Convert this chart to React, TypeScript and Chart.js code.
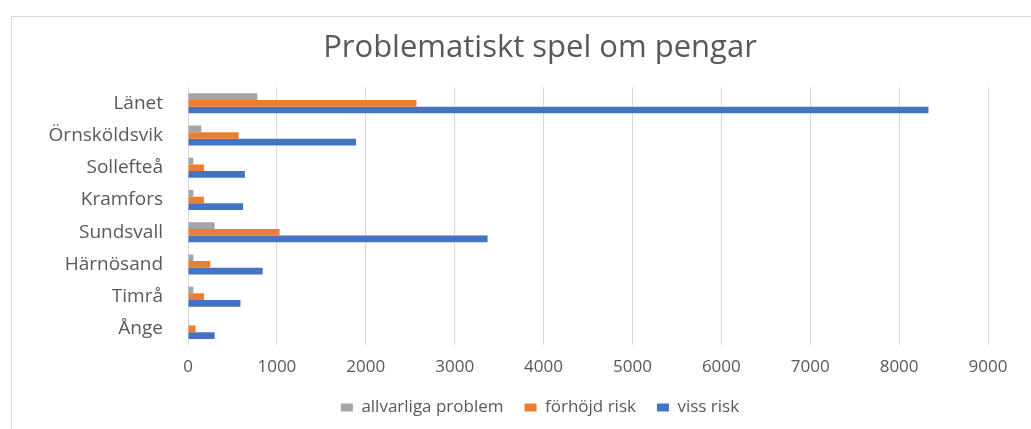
import React, { useEffect, useRef } from "react";
import { Chart, registerables } from "chart.js";

Chart.register(...registerables);

const chartTitle = "Problematiskt spel om pengar";
const categories = ["Länet", "Örnsköldsvik", "Sollefteå", "Kramfors", "Sundsvall", "Härnösand", "Timrå", "Ånge"];
const seriesNames = ["allvarliga problem", "förhöjd risk", "viss risk"];
const allvarligaProblem = [780, 150, 60, 60, 300, 60, 60, 10];
const forhojdRisk = [2570, 570, 180, 180, 1030, 250, 180, 85];
const vissRisk = [8330, 1890, 640, 620, 3370, 840, 590, 300];
const xTickLabels = ["0", "1000", "2000", "3000", "4000", "5000", "6000", "7000", "8000", "9000"];
const seriesColors = ["#a5a5a5", "#ed7d31", "#4472c4"];

const TEXT = "#595959";
const GRID = "#d9d9d9";
const CANVAS_W = 1080;
const CANVAS_H = 429;

const framePlugin = {
  id: "frame",
  beforeDraw(chart: any) {
    const ctx = chart.ctx;
    ctx.save();
    ctx.fillStyle = "#ffffff";
    ctx.fillRect(0, 0, chart.width, chart.height);
    ctx.strokeStyle = GRID;
    ctx.lineWidth = 1;
    ctx.strokeRect(11.5, 16.5, chart.width + 20, chart.height + 20);
    ctx.restore();
  },
};

export default function App() {
  const canvasRef = useRef<HTMLCanvasElement | null>(null);

  useEffect(() => {
    document.body.style.margin = "0";
    const canvas = canvasRef.current;
    if (!canvas) return;
    const chart = new Chart(canvas, {
      type: "bar",
      data: {
        labels: categories,
        datasets: [
          { label: seriesNames[0], data: allvarligaProblem, backgroundColor: seriesColors[0], xAxisID: "x", yAxisID: "y" },
          { label: seriesNames[1], data: forhojdRisk, backgroundColor: seriesColors[1], xAxisID: "x", yAxisID: "y" },
          { label: seriesNames[2], data: vissRisk, backgroundColor: seriesColors[2], xAxisID: "x", yAxisID: "y" },
        ],
      },
      options: {
        indexAxis: "y",
        responsive: false,
        animation: false,
        datasets: {
          bar: { categoryPercentage: 0.62, barPercentage: 1.0 },
        },
        layout: { padding: { left: 10, right: 10, top: 0, bottom: 3 } },
        plugins: {
          title: {
            display: true,
            text: chartTitle,
            color: TEXT,
            font: { family: "'Open Sans'", size: 31, weight: "normal", lineHeight: 1.2 },
            padding: { top: 30, bottom: 20 },
          },
          legend: {
            position: "bottom",
            labels: {
              color: TEXT,
              font: { family: "'Open Sans'", size: 17 },
              boxWidth: 12,
              boxHeight: 8,
              padding: 21,
            },
          },
          tooltip: { enabled: false },
        },
        scales: {
          x: {
            min: 0,
            max: 9000,
            ticks: {
              stepSize: 1000,
              color: TEXT,
              font: { family: "'Open Sans'", size: 17 },
              padding: 12,
              maxRotation: 0,
              callback: (_v: any, i: number) => xTickLabels[i],
            },
            grid: { color: GRID, lineWidth: 1, drawTicks: false },
            border: { display: false },
            afterFit: (scale: any) => {
              scale.height = 33;
            },
          },
          y: {
            position: "left",
            ticks: {
              color: TEXT,
              font: { family: "'Open Sans'", size: 19 },
              padding: 25,
            },
            grid: { display: false, drawTicks: false },
            border: { display: false },
            afterFit: (scale: any) => {
              scale.width = 178;
            },
          },
          yRight: {
            type: "linear",
            position: "right",
            display: true,
            ticks: { display: false },
            grid: { display: false, drawTicks: false },
            border: { display: false },
            afterFit: (scale: any) => {
              scale.width = 82;
            },
          },
        },
      },
      plugins: [framePlugin],
    } as any);
    return () => chart.destroy();
  }, []);

  return (
    <div style={{ position: "absolute", left: 0, top: 0, width: 1031, height: 429, overflow: "hidden" }}>
      <canvas ref={canvasRef} width={CANVAS_W} height={CANVAS_H} />
    </div>
  );
}
